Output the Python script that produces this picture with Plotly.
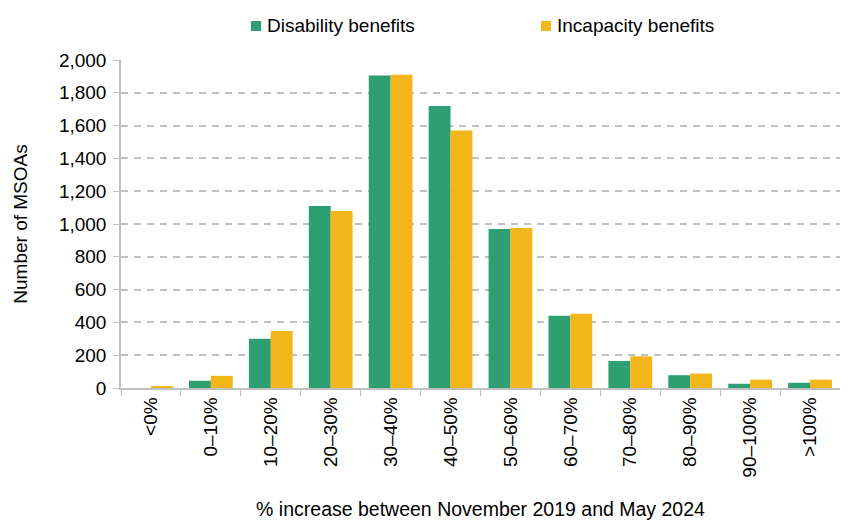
import plotly.graph_objects as go

categories = ["<0%", "0\u201310%", "10\u201320%", "20\u201330%", "30\u201340%", "40\u201350%",
              "50\u201360%", "60\u201370%", "70\u201380%", "80\u201390%", "90\u2013100%", ">100%"]
disability = [0, 44, 300, 1110, 1905, 1720, 970, 440, 165, 78, 26, 32]
incapacity = [8, 74, 348, 1080, 1910, 1570, 975, 452, 193, 88, 51, 51]

GREEN = "#2E9E73"
YELLOW = "#F2B61A"
GRID = "#C0C0C0"
FONT = "Liberation Sans, Arial, sans-serif"

# plot area in pixels (used to place the hand-made legend)
W, H = 848, 526
L, R, T, B = 113, 16, 52, 146
pw, ph = W - L - R, H - T - B


def px_x(x):
    return (x - L) / pw


def px_y(y):
    return (H - B - y) / ph


fig = go.Figure()
fig.add_trace(go.Bar(x=categories, y=disability, name="Disability benefits",
                     marker=dict(color=GREEN, line=dict(width=0))))
fig.add_trace(go.Bar(x=categories, y=incapacity, name="Incapacity benefits",
                     marker=dict(color=YELLOW, line=dict(width=0))))

# legend drawn by hand: square + label, as in the original
for trace, sq_left in zip(fig.data, [243, 533]):
    fig.add_shape(type="rect", xref="paper", yref="paper",
                  x0=px_x(sq_left), x1=px_x(sq_left + 10),
                  y0=px_y(23), y1=px_y(13),
                  fillcolor=trace.marker.color, line=dict(width=0))
    fig.add_annotation(text=trace.name, xref="paper", yref="paper",
                       x=px_x(sq_left + 14), y=px_y(18), xanchor="left",
                       yanchor="middle", showarrow=False, font=dict(size=19))

fig.update_layout(
    width=W, height=H,
    margin=dict(l=L, r=R, t=T, b=B, autoexpand=False),
    plot_bgcolor="white", paper_bgcolor="white",
    font=dict(family=FONT, size=19, color="#000000"),
    barmode="group", bargap=0.27, bargroupgap=0,
    showlegend=False,
)

fig.update_xaxes(
    type="category", tickangle=-90, tickson="boundaries", ticks="outside",
    ticklen=6, tickcolor=GRID, showline=True, linecolor=GRID, linewidth=1.5,
    showgrid=False, tickfont=dict(size=19), automargin=False,
    title=dict(text="% increase between November 2019 and May 2024",
               font=dict(size=19.5), standoff=26),
)
fig.update_yaxes(
    range=[0, 2000], dtick=200, tickformat=",", showline=True, linecolor=GRID,
    linewidth=1.5, showgrid=True, gridcolor=GRID, griddash="7px,6px", gridwidth=1.5,
    zeroline=False, ticks="outside", ticklen=6, tickcolor=GRID, automargin=False,
    tickfont=dict(size=19), ticklabelstandoff=3,
    title=dict(text="Number of MSOAs", font=dict(size=19), standoff=26),
)

fig.write_html("out.html")
